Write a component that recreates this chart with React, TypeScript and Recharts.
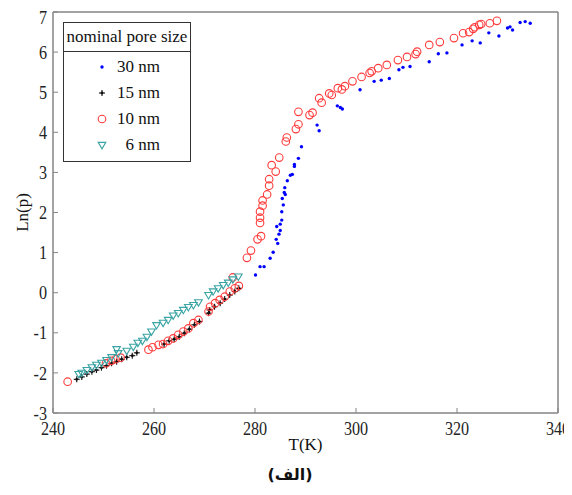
import React from 'react';
import { ScatterChart, Scatter, XAxis, YAxis, Legend } from 'recharts';

// T (K), Ln(p)
const pore30nm: [number, number][] = [
  [280.1, 0.44], [281.0, 0.65], [281.8, 0.65], [283.0, 0.86], [283.6, 1.01],
  [284.2, 1.33], [284.5, 1.23], [284.75, 1.46], [285.0, 1.55], [284.3, 1.65],
  [285.0, 1.71], [285.3, 1.81], [285.3, 2.02], [285.6, 2.19], [285.4, 2.35],
  [286.0, 2.45], [285.8, 2.5], [285.9, 2.62], [286.4, 2.79], [287.0, 2.93],
  [287.4, 2.95], [287.8, 3.15], [287.8, 3.2], [288.6, 3.35], [289.2, 3.64],
  [292.3, 4.18], [292.7, 4.04], [296.3, 4.66], [296.9, 4.62], [297.3, 4.58],
  [300.8, 5.06], [303.6, 5.27], [305.0, 5.3], [306.6, 5.34], [308.5, 5.56],
  [309.3, 5.62], [310.7, 5.64], [314.5, 5.76], [316.3, 5.96], [318.0, 5.98],
  [321.0, 6.18], [323.0, 6.28], [324.6, 6.23], [326.3, 6.48], [328.3, 6.4],
  [330.0, 6.6], [331.0, 6.55], [330.5, 6.63], [332.5, 6.74], [333.5, 6.76],
  [334.5, 6.72],
];

const pore15nm: [number, number][] = [
  [244.7, -2.16], [245.7, -2.1], [246.7, -2.03], [247.7, -1.97], [248.6, -1.93],
  [249.6, -1.87], [250.6, -1.82], [251.6, -1.76], [252.6, -1.72], [253.6, -1.66],
  [254.6, -1.61], [255.7, -1.57], [256.6, -1.5], [262.0, -1.28], [263.0, -1.2],
  [264.0, -1.16], [265.0, -1.1], [266.0, -1.01], [267.0, -0.91], [268.0, -0.8],
  [269.0, -0.72], [270.8, -0.51], [271.0, -0.43], [272.0, -0.35], [273.1, -0.26],
  [274.0, -0.16], [275.0, -0.06], [276.0, 0.03], [276.8, 0.11],
];

const pore10nm: [number, number][] = [
  [242.9, -2.22], [250.5, -1.76], [251.5, -1.7], [252.4, -1.66], [253.4, -1.62],
  [258.9, -1.42], [259.7, -1.36], [260.9, -1.3], [261.8, -1.28], [262.8, -1.2],
  [263.8, -1.14], [264.8, -1.05], [265.8, -0.97], [266.8, -0.89], [267.8, -0.76],
  [268.8, -0.68], [270.8, -0.47], [271.1, -0.35], [272.1, -0.26], [273.0, -0.18],
  [274.0, -0.1], [275.0, 0.03], [276.0, 0.11], [276.8, 0.17], [275.6, 0.38],
  [278.4, 0.87], [279.2, 1.05], [280.5, 1.33], [281.2, 1.41], [281.0, 1.74],
  [281.0, 1.87], [281.0, 2.02], [281.5, 2.17], [281.5, 2.3], [282.4, 2.45],
  [282.8, 2.67], [282.8, 2.83], [284.1, 3.02], [283.3, 3.18], [284.8, 3.37],
  [286.1, 3.77], [286.3, 3.87], [288.1, 4.08], [288.6, 4.2], [288.6, 4.51],
  [290.8, 4.43], [291.4, 4.49], [292.7, 4.85], [293.2, 4.74], [294.7, 4.97],
  [295.2, 4.93], [296.4, 5.1], [297.2, 5.07], [297.8, 5.15], [299.3, 5.27],
  [301.1, 5.38], [302.7, 5.48], [303.1, 5.52], [304.4, 5.6], [306.1, 5.68],
  [308.3, 5.8], [310.1, 5.88], [311.8, 5.95], [312.1, 6.01], [314.5, 6.18],
  [316.6, 6.25], [319.4, 6.35], [321.2, 6.47], [322.4, 6.5], [323.2, 6.58],
  [323.5, 6.62], [324.4, 6.68], [324.8, 6.7], [326.5, 6.72], [327.9, 6.78],
];

const pore6nm: [number, number][] = [
  [245.1, -2.03], [245.7, -2.0], [246.7, -1.93], [247.7, -1.86], [248.6, -1.8],
  [249.6, -1.75], [250.6, -1.68], [251.6, -1.61], [252.6, -1.41], [252.9, -1.51],
  [254.6, -1.45], [255.9, -1.35], [256.8, -1.25], [257.7, -1.2], [258.6, -1.1],
  [259.5, -0.97], [260.5, -0.81], [261.8, -0.75], [262.8, -0.68], [263.8, -0.57],
  [264.8, -0.51], [265.8, -0.43], [266.8, -0.36], [267.8, -0.31], [268.8, -0.24],
  [270.8, -0.06], [271.7, 0.03], [272.7, 0.11], [273.7, 0.19], [274.7, 0.25],
  [275.6, 0.33], [276.7, 0.4],
];

const xTicks = [240, 260, 280, 300, 320, 340];
const yTicks = [-3, -2, -1, 0, 1, 2, 3, 4, 5, 6, 7];

const FONT = '"Liberation Serif", "Times New Roman", serif';
const FRAME = '#858585';
const axisLine = { stroke: FRAME, strokeWidth: 1.5 };

const toPoints = (rows: [number, number][]) => rows.map(([t, lnp]) => ({ t, lnp }));

const BlueDot = ({ cx, cy }: any) => <circle cx={cx} cy={cy} r={1.7} fill="#0000ff" />;
const BlackStar = ({ cx, cy }: any) => (
  <g stroke="#111" strokeWidth={1.1}>
    <line x1={cx - 3} y1={cy} x2={cx + 3} y2={cy} />
    <line x1={cx} y1={cy - 3} x2={cx} y2={cy + 3} />
    <circle cx={cx} cy={cy} r={1.4} fill="#111" stroke="none" />
  </g>
);
const RedCircle = ({ cx, cy }: any) => (
  <circle cx={cx} cy={cy} r={3.8} fill="none" stroke="#ff3b3b" strokeWidth={1.1} />
);
const CyanTriangle = ({ cx, cy }: any) => (
  <path
    d={`M${cx - 3.8},${cy - 2.6} L${cx + 3.8},${cy - 2.6} L${cx},${cy + 3.8} Z`}
    fill="none"
    stroke="#3aa3a3"
    strokeWidth={1.1}
  />
);

// the source figure is a bit squeezed sideways, so tick text is narrowed
const XTick = ({ x, y, payload }: any) => (
  <text
    transform={`translate(${x},${y}) scale(0.85,1)`}
    dy="0.71em"
    textAnchor="middle"
    fontFamily={FONT}
    fontSize={19}
    fill="#222"
  >
    {payload.value}
  </text>
);
const YTick = ({ x, y, payload }: any) => (
  <text
    transform={`translate(${x},${y}) scale(0.85,1)`}
    dy="0.35em"
    textAnchor="end"
    fontFamily={FONT}
    fontSize={19}
    fill="#222"
  >
    {payload.value}
  </text>
);

const legendRows = [
  { label: '30 nm', Shape: BlueDot },
  { label: '15 nm', Shape: BlackStar },
  { label: '10 nm', Shape: RedCircle },
  { label: '6 nm', Shape: CyanTriangle },
];

const PoreLegend = () => (
  <div
    style={{
      width: 126,
      border: '1px solid #333',
      background: '#fff',
      fontFamily: FONT,
      fontSize: 17,
      color: '#111',
    }}
  >
    <div style={{ borderBottom: '1px solid #333', textAlign: 'center', height: 28, lineHeight: '28px' }}>
      nominal pore size
    </div>
    <div style={{ padding: '2px 0 3px' }}>
      {legendRows.map(({ label, Shape }) => (
        <div key={label} style={{ display: 'flex', alignItems: 'center', height: 26 }}>
          <svg width={12} height={12} style={{ marginLeft: 32 }}>
            <Shape cx={6} cy={6} />
          </svg>
          <span style={{ width: 44, marginLeft: 8, textAlign: 'right' }}>{label}</span>
        </div>
      ))}
    </div>
  </div>
);

export default function App() {
  return (
    <div style={{ position: 'relative', width: 564, height: 476, fontFamily: FONT }}>
      <ScatterChart width={564} height={454} margin={{ top: 0, right: 0, bottom: 0, left: 0 }}>
        <XAxis
          xAxisId="bottom"
          dataKey="t"
          type="number"
          domain={[240, 340]}
          ticks={xTicks}
          height={49}
          axisLine={axisLine}
          tickLine={{ stroke: FRAME }}
          tickSize={-5}
          tickMargin={13}
          tick={<XTick />}
          label={{ value: 'T(K)', position: 'insideBottom', offset: 12, style: { fontFamily: FONT, fontSize: 17, fill: '#111' } }}
        />
        <XAxis
          xAxisId="top"
          orientation="top"
          type="number"
          domain={[240, 340]}
          ticks={xTicks}
          height={4}
          axisLine={axisLine}
          tickLine={{ stroke: FRAME }}
          tickSize={-5}
          tick={false}
        />
        <YAxis
          yAxisId="left"
          dataKey="lnp"
          type="number"
          domain={[-3, 7]}
          ticks={yTicks}
          width={45}
          axisLine={axisLine}
          tickLine={{ stroke: FRAME }}
          tickSize={-5}
          tickMargin={11}
          tick={<YTick />}
          label={{ value: 'Ln(p)', angle: -90, position: 'insideLeft', offset: 14, style: { textAnchor: 'middle', fontFamily: FONT, fontSize: 17, fill: '#111' } }}
        />
        <YAxis
          yAxisId="right"
          orientation="right"
          type="number"
          domain={[-3, 7]}
          ticks={yTicks}
          width={14}
          axisLine={axisLine}
          tickLine={{ stroke: FRAME }}
          tickSize={-5}
          tick={false}
        />
        <Legend
          layout="horizontal"
          verticalAlign="middle"
          align="center"
          content={<PoreLegend />}
          wrapperStyle={{ left: 55, top: 14, width: 'auto', height: 'auto' }}
        />
        <Scatter xAxisId="bottom" yAxisId="left" name="30 nm" data={toPoints(pore30nm)} shape={BlueDot} isAnimationActive={false} />
        <Scatter xAxisId="bottom" yAxisId="left" name="15 nm" data={toPoints(pore15nm)} shape={BlackStar} isAnimationActive={false} />
        <Scatter xAxisId="bottom" yAxisId="left" name="10 nm" data={toPoints(pore10nm)} shape={RedCircle} isAnimationActive={false} />
        <Scatter xAxisId="bottom" yAxisId="left" name="6 nm" data={toPoints(pore6nm)} shape={CyanTriangle} isAnimationActive={false} />
      </ScatterChart>
      <div
        style={{
          position: 'absolute',
          left: 0,
          width: 564,
          top: 457,
          textAlign: 'center',
          fontFamily: '"DejaVu Sans", sans-serif',
          fontSize: 16,
          fontWeight: 'bold',
          color: '#111',
          lineHeight: '20px',
        }}
      >
        (الف)
      </div>
    </div>
  );
}
